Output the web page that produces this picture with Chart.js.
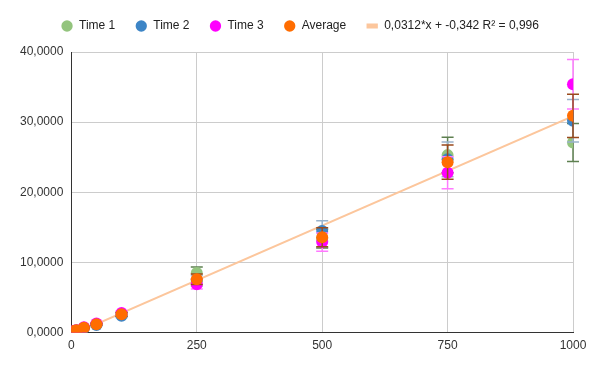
<!DOCTYPE html>
<html>
<head>
<meta charset="utf-8">
<script src="https://cdn.jsdelivr.net/npm/chart.js@4"></script>
<style>
  html, body { margin: 0; padding: 0; background: #fff; }
  #wrap { width: 600px; height: 371px; }
</style>
</head>
<body>
<div id="wrap"><canvas id="chart"></canvas></div>
<script>
// x values (concentration) and the three measurements plus their average
const xValues = [5, 10, 25, 50, 100, 250, 500, 750, 1000];
const time1 = [0.2, 0.35, 0.7, 1.2, 2.6, 8.5, 13.4, 25.3, 27.1];
const time2 = [0.2, 0.3, 0.65, 1.1, 2.4, 7.4, 14.5, 24.7, 30.2];
const time3 = [0.25, 0.35, 0.75, 1.3, 2.8, 6.9, 12.9, 22.8, 35.4];
const average = [0.22, 0.33, 0.7, 1.2, 2.6, 7.6, 13.6, 24.3, 30.9];

// trendline end points
const trendX = [0, 1000];
const trendY = [-0.342, 30.858];
const trendLabel = "0,0312*x + -0,342 R\u00b2 = 0,996";

// error bars are a percent of each value
const errorPercent = 10;

const xTicks = [0, 250, 500, 750, 1000];

const pts = (xs, ys) => xs.map((x, i) => ({ x: x, y: ys[i] }));

const pointSet = (label, ys, color, errColor, order) => ({
    type: "scatter",
    label: label,
    data: pts(xValues, ys),
    backgroundColor: color,
    borderColor: color,
    pointRadius: 6,
    pointHoverRadius: 6,
    pointStyle: "circle",
    borderWidth: 0,
    errorColor: errColor,
    order: order
});

// Draw each series' error bars just before its points
const errorBars = {
    id: "errorBars",
    beforeDatasetDraw(chart, args) {
        const ds = chart.data.datasets[args.index];
        if (!ds.errorColor) return;
        const xs = chart.scales.x, ys = chart.scales.y;
        const ctx = chart.ctx;
        const area = chart.chartArea;
        ctx.save();
        ctx.beginPath();
        ctx.rect(area.left, area.top - 10, area.right - area.left + 10, area.bottom - area.top + 10);
        ctx.clip();
        ctx.strokeStyle = ds.errorColor;
        ctx.lineWidth = 1.5;
        ds.data.forEach(p => {
            const e = p.y * errorPercent / 100;
            const px = xs.getPixelForValue(p.x);
            const top = ys.getPixelForValue(p.y + e);
            const bot = ys.getPixelForValue(p.y - e);
            ctx.beginPath();
            ctx.moveTo(px, top); ctx.lineTo(px, bot);
            ctx.moveTo(px - 6, top); ctx.lineTo(px + 6, top);
            ctx.moveTo(px - 6, bot); ctx.lineTo(px + 6, bot);
            ctx.stroke();
        });
        ctx.restore();
    }
};

// Extra room under the legend, and centre it on the whole canvas
const legendGap = {
    id: "legendGap",
    beforeInit(chart) {
        const fit = chart.legend.fit;
        chart.legend.fit = function() {
            fit.bind(chart.legend)();
            this.height += 10;
        };
    },
    afterLayout(chart) {
        const lg = chart.legend;
        const shift = (chart.width - lg.right - lg.left) / 2;
        lg.left += shift;
        lg.right += shift;
    }
};

const font = { family: "'Liberation Sans', Arial, sans-serif", size: 12 };

new Chart(document.getElementById("chart"), {
    data: {
        datasets: [
            pointSet("Time 1", time1, "#93c47d", "#5e8050", 4),
            pointSet("Time 2", time2, "#3d85c6", "#9ab3cc", 3),
            pointSet("Time 3", time3, "#ff00ff", "#ff7aff", 2),
            pointSet("Average", average, "#ff6d01", "#9a4a1c", 1),
            {
                type: "line",
                label: trendLabel,
                data: pts(trendX, trendY),
                borderColor: "#fcc69c",
                backgroundColor: "#fcc69c",
                borderWidth: 2,
                pointRadius: 0,
                pointStyle: "line",
                order: 5
            }
        ]
    },
    options: {
        responsive: true,
        maintainAspectRatio: false,
        animation: false,
        layout: { padding: { top: 0, right: 27, left: 12, bottom: 12 } },
        plugins: {
            tooltip: { enabled: false },
            legend: {
                position: "top",
                labels: {
                    font: font,
                    color: "#222",
                    usePointStyle: true,
                    boxWidth: 12,
                    boxHeight: 8,
                    padding: 20,
                    sort: (a, b) => a.datasetIndex - b.datasetIndex,
                    generateLabels(chart) {
                        const items = Chart.defaults.plugins.legend.labels.generateLabels(chart);
                        items.forEach(it => {
                            if (it.pointStyle === "line") {
                                it.lineWidth = 5;
                                it.strokeStyle = "#fcc69c";
                            } else {
                                it.lineWidth = 0;
                            }
                        });
                        return items;
                    }
                }
            }
        },
        scales: {
            x: {
                type: "linear",
                min: 0,
                max: 1000,
                afterBuildTicks: axis => { axis.ticks = xTicks.map(v => ({ value: v })); },
                ticks: {
                    font: font, color: "#333", padding: 6, maxRotation: 0,
                    callback: v => String(v)
                },
                grid: {
                    color: ctx => ctx.tick && ctx.tick.value === 0 ? "#333" : "#cccccc",
                    lineWidth: 1,
                    drawTicks: false
                },
                border: { display: true, color: "#333" }
            },
            y: {
                min: 0,
                max: 40,
                ticks: {
                    stepSize: 10,
                    font: font,
                    color: "#333",
                    padding: 8,
                    callback: v => v.toFixed(4).replace(".", ",")
                },
                grid: {
                    color: ctx => ctx.tick && ctx.tick.value === 0 ? "#333" : "#cccccc",
                    lineWidth: 1,
                    drawTicks: false
                },
                border: { display: true, color: "#333" }
            }
        }
    },
    plugins: [errorBars, legendGap]
});
</script>
</body>
</html>
